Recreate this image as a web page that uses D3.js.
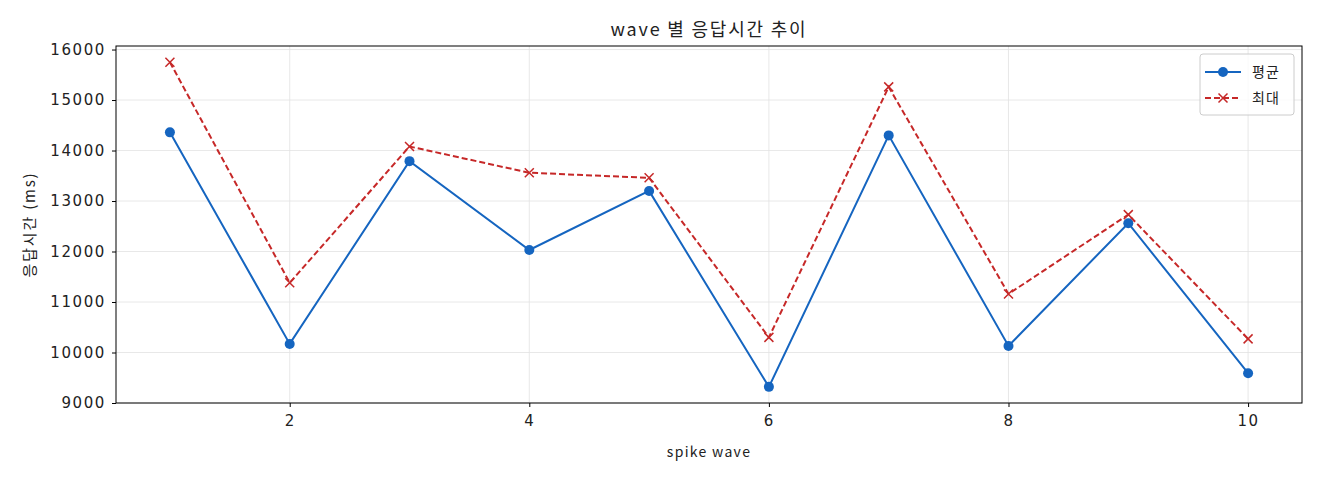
<!DOCTYPE html>
<html><head><meta charset="utf-8">
<script src="https://cdn.jsdelivr.net/npm/d3@7"></script>
<style>
body{margin:0;background:#fff;}
text{fill:#222;}
</style></head>
<body><svg id="c" width="1320" height="480" font-family="'Noto Sans CJK KR','Noto Sans',sans-serif"></svg>
<script>
const waves = [1,2,3,4,5,6,7,8,9,10];
const avgValues = [14360,10170,13790,12030,13200,9320,14300,10130,12560,9590];
const maxValues = [15750,11380,14080,13560,13460,10300,15260,11160,12730,10270];
const yTicks = [9000,10000,11000,12000,13000,14000,15000,16000];
const xTicks = [2,4,6,8,10];
const seriesNames = ["평균","최대"];
const titleText = "wave 별 응답시간 추이";
const xLabel = "spike wave";
const yLabel = "응답시간 (ms)";

const svg = d3.select("#c");
const L=116,R=1302,T=46,B=403;
const x = d3.scaleLinear().domain([0.55,10.45]).range([L,R]);
const y = d3.scaleLinear().domain([9000,16070]).range([B,T]);

// grid
svg.append("g").selectAll("line").data(yTicks).join("line")
  .attr("x1",L).attr("x2",R).attr("y1",d=>y(d)).attr("y2",d=>y(d))
  .attr("stroke","#e2e2e2").attr("stroke-width",0.8);
svg.append("g").selectAll("line").data(xTicks).join("line")
  .attr("y1",T).attr("y2",B).attr("x1",d=>x(d)).attr("x2",d=>x(d))
  .attr("stroke","#e2e2e2").attr("stroke-width",0.8);

// axes
const xa = svg.append("g").attr("transform",`translate(0,${B})`)
  .call(d3.axisBottom(x).tickValues(xTicks).tickSize(4).tickPadding(8).tickFormat(d3.format("d")));
const ya = svg.append("g").attr("transform",`translate(${L},0)`)
  .call(d3.axisLeft(y).tickValues(yTicks).tickSize(4).tickPadding(6).tickFormat(d3.format("d")));
[xa,ya].forEach(a=>{a.select(".domain").remove();a.selectAll("line").attr("stroke","#000");
  a.attr("font-family",null).attr("font-size",null);
  a.selectAll("text").style("font-size","15px").style("font-family","'DejaVu Sans',sans-serif")
   .style("letter-spacing","1.6px").style("fill","#222");});
svg.append("rect").attr("x",L).attr("y",T).attr("width",R-L).attr("height",B-T)
  .attr("fill","none").attr("stroke","#000").attr("stroke-width",1);

const line = d3.line().x((d,i)=>x(waves[i])).y(d=>y(d));
svg.append("path").datum(avgValues).attr("d",line).attr("fill","none")
  .attr("stroke","#1565c0").attr("stroke-width",2);
svg.append("path").datum(maxValues).attr("d",line).attr("fill","none")
  .attr("stroke","#c62828").attr("stroke-width",2).attr("stroke-dasharray","6,3");
svg.append("g").selectAll("circle").data(avgValues).join("circle")
  .attr("cx",(d,i)=>x(waves[i])).attr("cy",d=>y(d)).attr("r",5).attr("fill","#1565c0");
const xm = (g,cx,cy,s)=>g.append("path").attr("d",`M${cx-s},${cy-s}L${cx+s},${cy+s}M${cx-s},${cy+s}L${cx+s},${cy-s}`)
  .attr("stroke","#c62828").attr("stroke-width",1.5).attr("fill","none");
const mg = svg.append("g");
maxValues.forEach((d,i)=>xm(mg,x(waves[i]),y(d),4.5));

// title and labels
svg.append("text").attr("x",(L+R)/2).attr("y",36).attr("text-anchor","middle").attr("font-size",18)
  .attr("letter-spacing","1.8px").text(titleText);
svg.append("text").attr("x",(L+R)/2).attr("y",457).attr("text-anchor","middle").attr("font-size",14)
  .attr("letter-spacing","1.3px").text(xLabel);
svg.append("text").attr("transform",`translate(35,${(T+B)/2}) rotate(-90)`).attr("text-anchor","middle").attr("font-size",15)
  .attr("letter-spacing","1.8px").text(yLabel);

// legend
const lg = svg.append("g");
lg.append("rect").attr("x",1200).attr("y",54).attr("width",94).attr("height",61).attr("rx",3)
  .attr("fill","#fff").attr("fill-opacity",0.8).attr("stroke","#ccc");
lg.append("line").attr("x1",1205).attr("x2",1241).attr("y1",72).attr("y2",72).attr("stroke","#1565c0").attr("stroke-width",2);
lg.append("circle").attr("cx",1223).attr("cy",72).attr("r",5).attr("fill","#1565c0");
lg.append("line").attr("x1",1205).attr("x2",1241).attr("y1",98).attr("y2",98).attr("stroke","#c62828").attr("stroke-width",2).attr("stroke-dasharray","6,3");
xm(lg,1223,98,4.5);
lg.append("text").attr("x",1252).attr("y",77).attr("font-size",14).attr("letter-spacing","1px").text(seriesNames[0]);
lg.append("text").attr("x",1252).attr("y",103).attr("font-size",14).attr("letter-spacing","1px").text(seriesNames[1]);
</script></body></html>
